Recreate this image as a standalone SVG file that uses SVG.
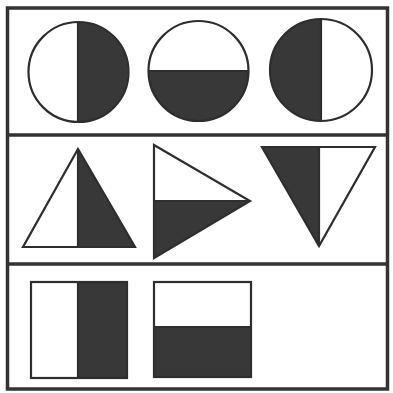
<svg xmlns="http://www.w3.org/2000/svg" width="393" height="393" viewBox="0 0 393 393">
<style>
.frame{fill:none;stroke:#333;stroke-width:3.5}
.out{fill:none;stroke:#2e2e2e;stroke-width:2.2;stroke-linejoin:miter}
.dark{fill:#383838;stroke:none}
.white{fill:#fff;stroke:none}
</style>
<rect width="393" height="393" fill="#fff"/>
<g id="frame">
<rect class="frame" x="7.5" y="8" width="380" height="381"/>
<line class="frame" x1="7.5" y1="135" x2="387.5" y2="135"/>
<line class="frame" x1="7.5" y1="264" x2="387.5" y2="264"/>
</g>
<g id="circle1">
<path class="dark" d="M78 22 A50 50 0 0 1 78 122 Z"/>
<circle class="out" cx="78.5" cy="72" r="50"/>
<line class="out" x1="78" y1="22" x2="78" y2="122"/>
</g>
<g id="circle2">
<path class="dark" d="M148.5 71 L248.5 71 A50 50 0 0 1 148.5 71 Z"/>
<circle class="out" cx="198.5" cy="71" r="50"/>
<line class="out" x1="148.5" y1="71" x2="248.5" y2="71"/>
</g>
<g id="circle3">
<path class="dark" d="M321 19 A51 51 0 0 0 321 121 Z"/>
<circle class="out" cx="321" cy="70" r="51"/>
<line class="out" x1="321" y1="19" x2="321" y2="121"/>
</g>
<g id="triangle1">
<polygon class="dark" points="78,149 135,247 78,247"/>
<polygon class="out" points="78,149 135,247 23,247"/>
<line class="out" x1="78" y1="149" x2="78" y2="247"/>
</g>
<g id="triangle2">
<polygon class="dark" points="154,201 250,201 154,258"/>
<polygon class="out" points="154,145 250,201 154,258"/>
<line class="out" x1="154" y1="201" x2="250" y2="201"/>
</g>
<g id="triangle3">
<polygon class="dark" points="262,147 319,147 319,246"/>
<polygon class="out" points="262,147 375,147 319,246"/>
<line class="out" x1="319" y1="147" x2="319" y2="246"/>
</g>
<g id="rect1">
<rect class="dark" x="78" y="282" width="49" height="96"/>
<rect class="out" x="31" y="282" width="96" height="96"/>
<line class="out" x1="78" y1="282" x2="78" y2="378"/>
</g>
<g id="rect2">
<rect class="dark" x="154" y="327" width="97" height="50"/>
<rect class="out" x="154" y="282" width="97" height="95"/>
<line class="out" x1="154" y1="327" x2="251" y2="327"/>
</g>
</svg>
